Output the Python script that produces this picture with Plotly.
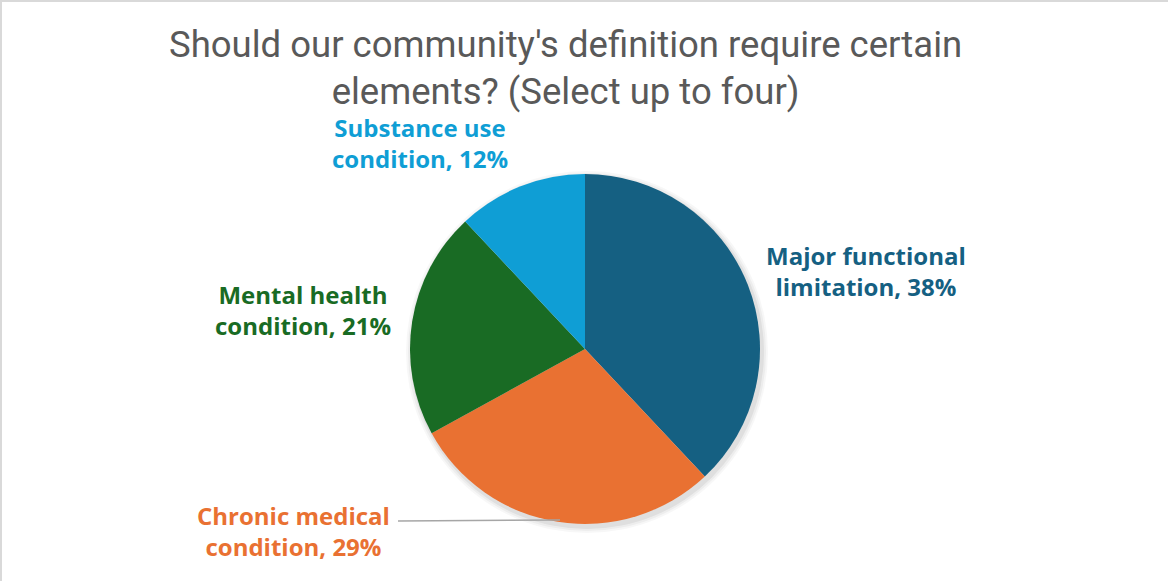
import plotly.graph_objects as go

# Survey results
categories = [
    "Major functional limitation",
    "Chronic medical condition",
    "Mental health condition",
    "Substance use condition",
]
label_lines = [
    ("Major functional", "limitation"),
    ("Chronic medical", "condition"),
    ("Mental health", "condition"),
    ("Substance use", "condition"),
]
percent = [38, 29, 21, 12]
colors = ["#156082", "#E97132", "#196B24", "#0F9ED5"]

title_lines = [
    "Should our community's definition require certain",
    "elements? (Select up to four)",
]

W, H = 1168, 581


def px(x):
    return x / W


def py(y):
    return 1 - y / H


# Pie geometry (pixels)
cx, cy, r = 585, 349, 175

fig = go.Figure()

# soft shadow behind the pie
for grow, alpha in [(6, 0.03), (4, 0.04), (2, 0.06)]:
    fig.add_trace(go.Pie(
        values=[1],
        marker=dict(colors=[f"rgba(0,0,0,{alpha})"]),
        textinfo="none", hoverinfo="skip", showlegend=False, sort=False,
        domain=dict(x=[px(cx - r - grow + 2), px(cx + r + grow + 2)],
                    y=[py(cy + r + grow + 3), py(cy - r - grow + 3)]),
    ))

fig.add_trace(go.Pie(
    labels=categories,
    values=percent,
    marker=dict(colors=colors, line=dict(width=0)),
    sort=False,
    direction="clockwise",
    rotation=0,
    textinfo="none",
    showlegend=False,
    domain=dict(x=[px(cx - r), px(cx + r)], y=[py(cy + r), py(cy - r)]),
))

# label positions (pixel centres)
label_pos = [(866, 271), (293, 531), (303, 310), (420, 143)]
for (l1, l2), v, c, (lx, ly) in zip(label_lines, percent, colors, label_pos):
    fig.add_annotation(
        x=px(lx), y=py(ly), xref="paper", yref="paper",
        text=f"{l1}<br>{l2}, {v}%",
        showarrow=False, xanchor="center", yanchor="middle",
        font=dict(family="Open Sans", size=24, color=c, weight="bold"),
        align="center",
    )

# leader line for the bottom label
fig.add_shape(type="line", xref="paper", yref="paper",
              x0=px(398), y0=py(521), x1=px(560), y1=py(520),
              line=dict(color="#A6A6A6", width=1.5))

# title
fig.add_annotation(
    x=px(565), y=py(68), xref="paper", yref="paper",
    text="<br>".join(title_lines), showarrow=False,
    xanchor="center", yanchor="middle", align="center",
    font=dict(family="Roboto", size=36.5, color="#595959"),
)

# chart area border (top and left edges)
fig.add_shape(type="rect", xref="paper", yref="paper",
              x0=px(1), y0=py(1), x1=px(W + 5), y1=py(H + 5),
              line=dict(color="#D9D9D9", width=2))

fig.update_layout(
    width=W, height=H,
    margin=dict(l=0, r=0, t=0, b=0),
    paper_bgcolor="white", plot_bgcolor="white",
)

fig.write_html("out.html")
